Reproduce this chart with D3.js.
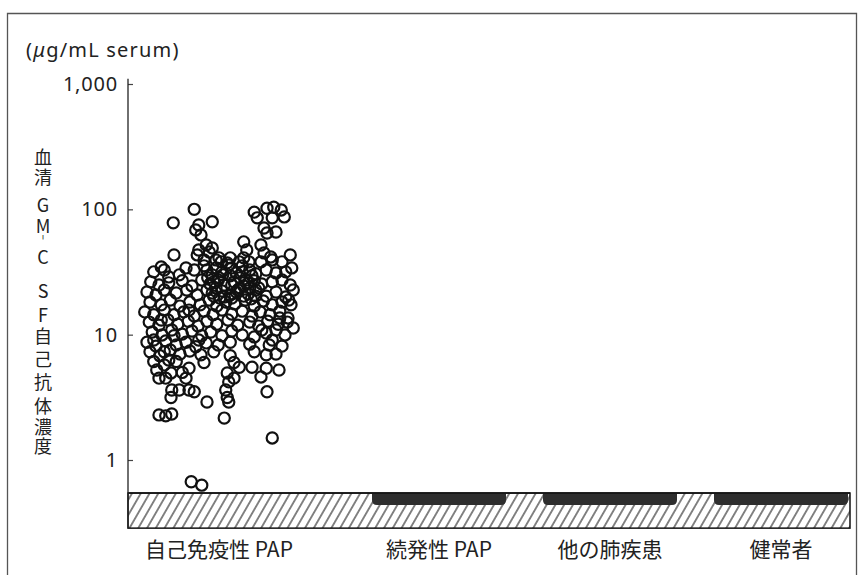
<!DOCTYPE html>
<html>
<head>
<meta charset="utf-8">
<script src="https://cdn.jsdelivr.net/npm/d3@7"></script>
<style>
  body { margin: 0; background: #fff; }
  svg { display: block; }
  text { font-family: "Noto Sans CJK JP", "Noto Sans", sans-serif; fill: #222; }
</style>
</head>
<body>
<svg id="chart" width="860" height="575"></svg>
<script>
// Patient groups along the x axis
const categories = ["自己免疫性 PAP", "続発性 PAP", "他の肺疾患", "健常者"];

// Log-axis tick values and their printed labels
const yTicks = [1, 10, 100, 1000];
const yTickLabels = ["1", "10", "100", "1,000"];

// Detection limit (hatched band top) and the bottom of the axis, in µg/mL
const detectionLimit = 0.545;
const axisFloor = 0.286;
const axisCeiling = 1100;

// Groups whose samples all sit below the detection limit (dark clusters)
const belowLimitGroups = ["続発性 PAP", "他の肺疾患", "健常者"];
const belowLimitLow = 0.437;

// Autoimmune PAP: serum GM-CSF autoantibody levels (µg/mL)
const papValues = [
  100, 78, 79.5, 75, 68.5, 62.5, 52, 47.4, 43.3, 43.3, 45.7, 49.2,
  95, 104, 102, 98.9, 87, 85.5, 85.5, 71, 66, 64.8, 55, 47.4, 52, 44.9, 41.7,
  38.1, 39.5, 38.1, 43.3, 38.1, 37.4, 34.7, 32.8, 30, 34.1, 28.9, 31.1,
  39.5, 41, 41, 38.1, 38.1,
  31.7, 32.8, 34.1, 35.4, 31.7, 34.1, 35.4, 32.8, 29.5, 28.4, 29.5, 32.8, 31.7, 34.1,
  26.4, 24.9, 25.9, 26.9, 24.5, 27.3, 25.4, 27.3, 24.9, 26.4, 24.5, 26.9, 25.4, 26.4, 27.3, 24.9,
  21.9, 20.7, 22.7, 21.5, 22.7, 20.7, 22.7, 20.3, 22.3, 20.7, 22.7, 21.1, 22.7, 20.3, 21.9, 20, 22.7,
  18.2, 17.3, 18.9, 16.9, 18.2, 17.3, 18.9, 16.9, 18.2, 17.6, 18.9, 16.9, 18.6, 17.3, 18.2, 17.3,
  15.2, 14.4, 15.7, 14.4, 15.2, 14.1, 15.4, 14.4, 15.7, 14.6, 15.4, 14.1, 15.2, 14.4, 15.4, 13.6,
  12.6, 11.9, 13.1, 12.1, 12.8, 11.7, 12.8, 12.1, 13.1, 11.9, 12.6, 11.7, 12.8, 12.1, 12.6, 11.3,
  10.5, 9.95, 10.9, 10.1, 10.7, 9.8, 10.5, 9.8, 10.7, 9.95, 9.6, 10.3, 10.9, 9.95,
  8.7, 8.1, 8.9, 8.27, 8.7, 8.0, 8.6, 8.27, 8.7, 8.4, 9.07, 8.1,
  7.3, 6.8, 7.55, 7.0, 7.4, 6.9, 7.3, 6.8, 7.3, 6.9, 7.0,
  6.1, 5.73, 6.1, 5.4, 6.0, 6.0, 5.5, 5.5, 5.4, 5.23,
  5.23, 4.95, 5.0, 4.5, 4.5, 4.5, 4.2, 4.5, 4.6, 4.95,
  3.62, 3.62, 3.62, 3.5, 3.15, 2.9, 3.62, 3.15, 2.9, 3.5,
  2.29, 2.25, 2.33, 2.16, 1.5, 0.67, 0.63,
  30, 28.4, 31.1, 27.3, 23.6, 23.6, 23.6, 19.6, 19.6, 20.3, 28.4, 20.3,
  32.8, 26.4, 30, 24.9, 31.7, 25.9, 30.6, 21.9, 20, 21.5, 19.3, 23.6, 36, 41, 39.5,
  9.07, 7.3, 9.8, 13.1, 15.7, 9.07, 6.28,
  18.9, 13.6, 8.27, 10.9
];

// Horizontal jitter of each autoimmune PAP sample, -1 … 1 across its column
const papJitter = [
  -0.33, -0.61, -0.09, -0.27, -0.31, -0.24, -0.17, -0.27, -0.29, -0.6, -0.13, -0.09,
  0.47, 0.73, 0.64, 0.83, 0.87, 0.51, 0.71, 0.6, 0.76, 0.64, 0.33, 0.37, 0.56, 0.6, 0.69,
  0.56, 0.71, 0.84, 0.95, 0.03, 0.11, -0.77, -0.33, -0.53, -0.04, -0.67, 0.76,
  -0.2, 0, 0.15, 0.27, 0.4,
  -0.87, -0.73, -0.44, -0.2, 0.04, 0.17, 0.31, 0.41, 0.15, 0.28, 0.44, 0.63, 0.89, 0.97,
  -0.91, -0.8, -0.67, -0.49, -0.36, -0.23, -0.12, -0.01, 0.07, 0.2, 0.33, 0.47, 0.57, 0.71, 0.84, 0.95,
  -0.96, -0.84, -0.73, -0.57, -0.43, -0.29, -0.16, -0.07, 0.04, 0.15, 0.25, 0.39, 0.49, 0.63, 0.76, 0.89, 0.99,
  -0.92, -0.77, -0.65, -0.52, -0.39, -0.25, -0.13, -0.03, 0.09, 0.21, 0.35, 0.47, 0.59, 0.71, 0.84, 0.96,
  -0.99, -0.87, -0.73, -0.6, -0.47, -0.33, -0.2, -0.08, 0.04, 0.17, 0.31, 0.44, 0.55, 0.68, 0.81, 0.92,
  -0.93, -0.8, -0.68, -0.55, -0.41, -0.28, -0.16, -0.03, 0.12, 0.25, 0.41, 0.53, 0.65, 0.79, 0.91, 0.99,
  -0.89, -0.76, -0.63, -0.49, -0.36, -0.23, -0.11, 0.04, 0.17, 0.31, 0.47, 0.63, 0.76, 0.88,
  -0.96, -0.84, -0.71, -0.57, -0.44, -0.31, -0.17, -0.01, 0.15, 0.41, 0.71, 0.84,
  -0.92, -0.79, -0.65, -0.52, -0.39, -0.24, -0.07, 0.15, 0.47, 0.63, 0.76,
  -0.87, -0.73, -0.57, -0.4, -0.2, 0.2, 0.27, 0.44, 0.63, 0.8,
  -0.83, -0.64, -0.49, -0.8, -0.71, -0.44, 0.13, 0.2, 0.56, 0.11,
  -0.63, -0.53, -0.4, -0.33, -0.64, -0.16, 0.09, 0.11, 0.13, 0.64,
  -0.8, -0.71, -0.63, 0.07, 0.71, -0.37, -0.23,
  -0.09, 0, 0.23, 0.36, 0.28, -0.04, 0.41, 0.17, 0.01, 0.33, -0.15, 0.49,
  -0.16, -0.07, 0.05, 0.17, 0.31, 0.39, 0.49, 0.23, 0.07, -0.09, 0.43, 0.53, 0.13, 0.33, -0.04,
  -0.87, -0.73, -0.6, -0.77, -0.4, -0.27, -0.67,
  0.93, 0.81, 0.67, 0.57
];

// Vertical axis title, one glyph per row
const yTitle = ["血", "清", "G", "M", "︲", "C", "S", "F", "自", "己", "抗", "体", "濃", "度"];

const svg = d3.select("#chart");

const axisX = 128;
const bandRight = 850;

const y = d3.scaleLog().domain([1, 1000]).range([460, 84]);
const x = d3.scaleOrdinal().domain(categories).range([219, 439, 610, 781]);
const jitter = d3.scaleLinear().domain([-1, 1]).range([-75, 75]);

// Outer frame
svg.append("path")
  .attr("d", `M7.5,590 V13.5 H856.5 V590`)
  .attr("fill", "none")
  .attr("stroke", "#555")
  .attr("stroke-width", 1.3);

// Hatch pattern for the below-detection band
const defs = svg.append("defs");
const pat = defs.append("pattern")
  .attr("id", "hatch")
  .attr("patternUnits", "userSpaceOnUse")
  .attr("width", 7.6)
  .attr("height", 12)
  .attr("patternTransform", "rotate(30)");
pat.append("line")
  .attr("x1", 3.8).attr("y1", -1).attr("x2", 3.8).attr("y2", 13)
  .attr("stroke", "#222").attr("stroke-width", 1.1);

// Hatched band
const bandTop = y(detectionLimit), bandBottom = y(axisFloor);
svg.append("rect")
  .attr("x", axisX).attr("y", bandTop)
  .attr("width", bandRight - axisX).attr("height", bandBottom - bandTop)
  .attr("fill", "url(#hatch)")
  .attr("stroke", "#111").attr("stroke-width", 1.5);

// Dark clusters of samples below the detection limit
const halfW = 67, r = 5;
svg.append("g").selectAll("path")
  .data(belowLimitGroups)
  .join("path")
  .attr("d", d => {
    const x0 = x(d) - halfW, x1 = Math.min(x(d) + halfW, bandRight);
    const t = bandTop, b = y(belowLimitLow);
    return `M${x0},${t} H${x1} V${b - r} Q${x1},${b} ${x1 - r},${b} H${x0 + r} Q${x0},${b} ${x0},${b - r} Z`;
  })
  .attr("fill", "#2e2e2e");

// Redraw the band top edge over the clusters
svg.append("line")
  .attr("x1", axisX).attr("x2", bandRight)
  .attr("y1", bandTop).attr("y2", bandTop)
  .attr("stroke", "#111").attr("stroke-width", 1.5);

// Y axis
const yAxis = d3.axisLeft(y)
  .tickValues(yTicks)
  .tickSize(-5)
  .tickPadding(10)
  .tickFormat((d, i) => yTickLabels[i]);
const gAxis = svg.append("g")
  .attr("transform", `translate(${axisX},0)`)
  .call(yAxis);
gAxis.select(".domain").remove();
gAxis.selectAll(".tick line").attr("stroke", "#444").attr("stroke-width", 1.2);
gAxis.selectAll(".tick text")
  .attr("font-size", 20)
  .attr("letter-spacing", 0.8)
  .style("font-family", "'Noto Sans', sans-serif")
  .attr("fill", "#222");

svg.append("line")
  .attr("x1", axisX).attr("x2", axisX)
  .attr("y1", y(axisCeiling)).attr("y2", bandBottom)
  .attr("stroke", "#222").attr("stroke-width", 1.3);

// Unit label
const unit = svg.append("text")
  .attr("x", 26).attr("y", 57)
  .attr("font-size", 20)
  .attr("letter-spacing", 1.2)
  .style("font-family", "'Noto Sans', sans-serif");
unit.append("tspan").text("(");
unit.append("tspan").attr("font-style", "italic").text("μ");
unit.append("tspan").text("g/mL serum)");

// Vertical axis title, glyphs stacked top to bottom
const titleRows = [156, 176, 204, 225, 236, 256, 290, 314, 335, 358, 381, 405, 426, 445];
svg.append("g").selectAll("text")
  .data(yTitle)
  .join("text")
  .attr("x", 43)
  .attr("y", (d, i) => titleRows[i])
  .attr("text-anchor", "middle")
  .attr("dominant-baseline", "central")
  .attr("font-size", 18)
  .text(d => d);

// Autoimmune PAP samples
const papIndex = d3.range(papValues.length);
svg.append("g").selectAll("circle")
  .data(papIndex)
  .join("circle")
  .attr("cx", i => x(categories[0]) + jitter(papJitter[i]))
  .attr("cy", i => y(papValues[i]))
  .attr("r", 5.6)
  .attr("fill", "none")
  .attr("stroke", "#111")
  .attr("stroke-width", 2.2);

// Category labels
svg.append("g").selectAll("text")
  .data(categories)
  .join("text")
  .attr("x", d => x(d))
  .attr("y", 557)
  .attr("text-anchor", "middle")
  .attr("font-size", 21)
  .text(d => d);
</script>
</body>
</html>
